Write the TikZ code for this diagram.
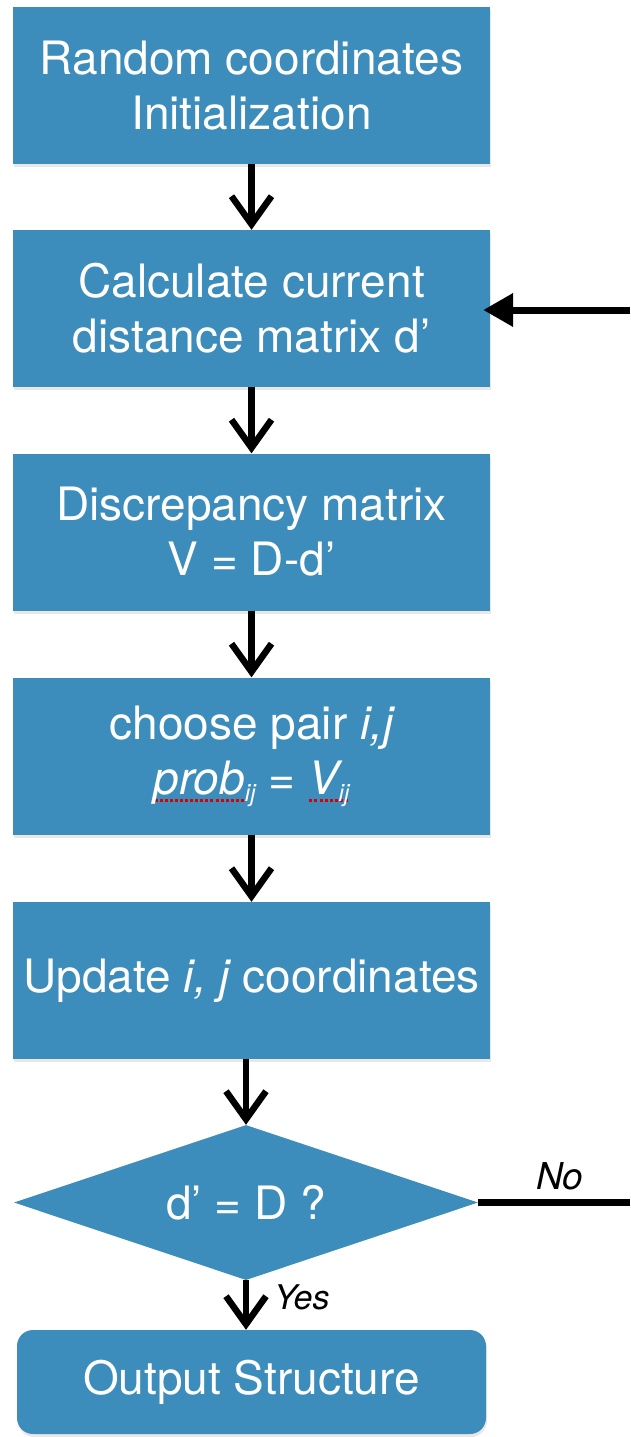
\documentclass[tikz,border=0pt]{standalone}
\usepackage{fontspec}
\setmainfont{TeX Gyre Heros}
\usetikzlibrary{shapes.geometric,arrows.meta,shadows}
\definecolor{boxblue}{RGB}{60,141,187}
\newcommand\redmark[1]{\setbox0\hbox{#1}\rlap{\color{red!85!black}\raisebox{-8pt}{\hbox to \wd0{\xleaders\hbox to 5pt{\hss\rule{3pt}{3pt}\hss}\hfill}}}\box0}
\newcommand\subij{\raisebox{-7pt}{\fontsize{24}{24}\selectfont\itshape ij}}
\begin{document}
\begin{tikzpicture}[x=1pt,y=-1pt,
  box/.style={fill=boxblue, draw=none, minimum width=477pt, minimum height=157pt,
    text=white, align=center, font=\fontsize{46}{55}\selectfont, inner sep=0pt,
    drop shadow={opacity=0.18,shadow xshift=1pt,shadow yshift=-3pt}},
  decision/.style={diamond, fill=boxblue, draw=none, aspect=3, minimum width=464pt,
    minimum height=155pt, text=white, font=\fontsize{46}{55}\selectfont, inner sep=0pt},
  endbox/.style={box, rounded corners=16pt, minimum width=469pt, minimum height=104pt},
  flow/.style={line width=6.5pt, -{Straight Barb[length=28pt,width=40pt,line width=6.5pt]}},
  feedback/.style={line width=7pt, -{Triangle[length=30pt,width=32pt]}, shorten >=-7pt},
  plainline/.style={line width=7pt},
  lab/.style={font=\fontsize{34}{34}\selectfont\itshape, text=black, inner sep=0pt}
]
\useasboundingbox (0,0) rectangle (630,1437);
\node[box] (b1) at (251.5,85.5) {Random coordinates\\Initialization};
\node[box] (b2) at (251.5,308.5) {Calculate current\\distance matrix d’};
\node[box] (b3) at (251.5,532) {Discrepancy matrix\\V = D-d’};
\node[box] (b4) at (251.5,756) {choose pair {\itshape i,j}\\\redmark{\itshape prob}\subij{} = \redmark{{\itshape V}\subij}};
\node[box] (b5) at (251.5,980.5) {Update {\itshape i, j} coordinates};
\node[decision] (d) at (246,1202.5) {d’ = D ?};
\node[endbox] (out) at (251.5,1382) {Output Structure};
\draw[flow] (b1) -- (b2);
\draw[flow] (b2) -- (b3);
\draw[flow] (b3) -- (b4);
\draw[flow] (b4) -- (b5);
\draw[flow] (b5.south -| d.north) -- (d.north);
\draw[flow] (d.south) -- (d.south |- out.north);
\coordinate (noend) at (630,1202.5);
\coordinate (fbstart) at (630,310);
\draw[plainline] (d.east) -- (noend);
\draw[feedback] (fbstart) -- (fbstart -| b2.east);
\node[lab, font=\fontsize{37}{37}\selectfont\itshape, anchor=base west] (no) at (536,1189) {No};
\node[lab, anchor=base west] (yes) at (274,1309) {Yes};
\end{tikzpicture}
\end{document}
